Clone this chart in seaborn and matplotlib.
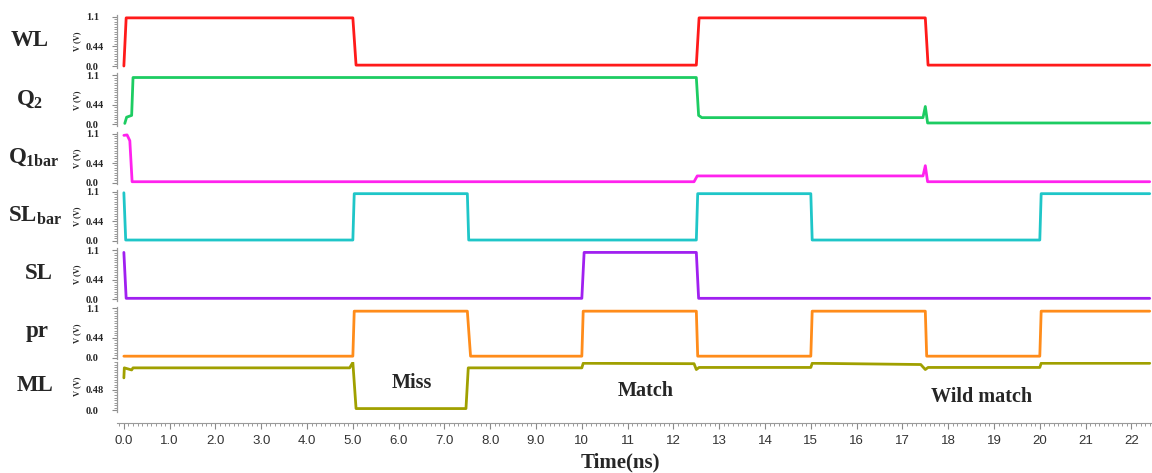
import numpy as np
import pandas as pd
import seaborn as sns
import matplotlib.pyplot as plt
from matplotlib.ticker import MultipleLocator

# Waveform breakpoints (time in ns, voltage in V)
wl_t = [0.0, 0.05, 5.0, 5.07, 12.5, 12.56, 17.5, 17.56, 22.4]
wl_v = [0.0, 1.08, 1.08, 0.02, 0.02, 1.08, 1.08, 0.02, 0.02]

q2_t = [0.02, 0.06, 0.17, 0.2, 12.5, 12.55, 12.62, 17.45, 17.5, 17.55, 22.4]
q2_v = [0.02, 0.16, 0.2, 1.05, 1.05, 0.2, 0.15, 0.15, 0.4, 0.03, 0.03]

q1bar_t = [0.0, 0.07, 0.13, 0.18, 12.45, 12.52, 17.45, 17.5, 17.55, 22.4]
q1bar_v = [1.06, 1.07, 0.94, 0.02, 0.02, 0.15, 0.15, 0.38, 0.02, 0.02]

slbar_t = [0.0, 0.04, 5.0, 5.03, 7.5, 7.53, 12.5, 12.53, 15.0, 15.03, 20.0, 20.03, 22.4]
slbar_v = [1.08, 0.02, 0.02, 1.06, 1.06, 0.02, 0.02, 1.06, 1.06, 0.02, 0.02, 1.06, 1.06]

sl_t = [0.0, 0.05, 10.0, 10.05, 12.5, 12.55, 22.4]
sl_v = [1.05, 0.02, 0.02, 1.05, 1.05, 0.02, 0.02]

pr_t = [0.0, 5.0, 5.03, 7.5, 7.57, 10.0, 10.03, 12.5, 12.53, 15.0, 15.03, 17.5, 17.53, 20.0, 20.03, 22.4]
pr_v = [0.03, 0.03, 1.04, 1.04, 0.03, 0.03, 1.04, 1.04, 0.03, 0.03, 1.04, 1.04, 0.03, 0.03, 1.04, 1.04]

ml_t = [0.0, 0.01, 0.17, 0.2, 4.93, 5.0, 5.07, 7.47, 7.52, 10.0, 10.03, 12.45, 12.5, 12.56,
        15.0, 15.03, 17.4, 17.5, 17.56, 20.0, 20.03, 22.4]
ml_v = [0.77, 1.01, 0.96, 1.01, 1.01, 1.14, 0.035, 0.035, 1.01, 1.01, 1.12, 1.11, 0.97, 1.02,
        1.02, 1.12, 1.09, 0.97, 1.02, 1.02, 1.12, 1.12]

names = ["WL", r"$\mathrm{Q_{2}}$", r"$\mathrm{Q_{1bar}}$", r"$\mathrm{SL_{bar}}$", "SL", "pr", "ML"]
name_x = [30, 30, 34, 35, 39, 37, 35]
colors = ["#ff1a1a", "#1dcc62", "#ff22ee", "#1fc6c8", "#a020f0", "#ff8c1a", "#a0a000"]
x_ticks = list(range(23))
x_labels = [f"{v:.1f}" for v in x_ticks[:10]] + [str(v) for v in x_ticks[10:]]

series = [(wl_t, wl_v), (q2_t, q2_v), (q1bar_t, q1bar_v), (slbar_t, slbar_v),
          (sl_t, sl_v), (pr_t, pr_v), (ml_t, ml_v)]

sns.set_style("white")
plt.rcParams['font.family'] = ['Liberation Serif', 'DejaVu Serif']
plt.rcParams['mathtext.fontset'] = 'custom'
plt.rcParams['mathtext.rm'] = 'Liberation Serif:bold'
plt.rcParams['mathtext.it'] = 'Liberation Serif:bold'
plt.rcParams['mathtext.bf'] = 'Liberation Serif:bold'

W, H = 1152, 473
fig = plt.figure(figsize=(W / 100, H / 100), dpi=100)
left = 117 / W

for i, ((t, v), name, c) in enumerate(zip(series, names, colors)):
    last = i == 6
    if last:
        top_px, bot_px, ylim = 361.6, 411.7, (-0.04, 1.16)
    else:
        top_px, bot_px, ylim = 15.2 + 58.3 * i, 67.8 + 58.3 * i, (-0.04, 1.14)
    ax = fig.add_axes([left, 1 - bot_px / H, 1 - left, (bot_px - top_px) / H])
    sns.lineplot(x=t, y=v, ax=ax, color=c, lw=2.0, estimator=None, sort=False)
    ax.set_xlim(-0.15, 22.45)
    ax.set_ylim(*ylim)
    for s in ["top", "right"]:
        ax.spines[s].set_visible(False)
    ax.spines["left"].set_color("#9a9a9a")
    ax.spines["left"].set_linewidth(0.9)

    if last:
        ax.set_yticks([0, 0.48], labels=["0.0", "0.48"])
        ax.yaxis.set_minor_locator(MultipleLocator(0.06))
        ax.spines["bottom"].set_position(("outward", 8))
        ax.spines["bottom"].set_color("#9a9a9a")
        ax.set_xticks(x_ticks, labels=x_labels)
        ax.xaxis.set_minor_locator(MultipleLocator(0.1))
        ax.tick_params(axis="x", which="both", bottom=True)
        ax.tick_params(axis="x", which="major", direction="out", length=4, width=0.8,
                       color="#8a8a8a", labelsize=9.5, labelcolor="#333333", pad=5)
        ax.tick_params(axis="x", which="minor", direction="out", length=2.2, width=0.6,
                       color="#8a8a8a")
        for lab in ax.get_xticklabels():
            lab.set_fontfamily("Liberation Sans")
    else:
        ax.set_yticks([0, 0.44, 1.1], labels=["0.0", "0.44", "1.1"])
        ax.yaxis.set_minor_locator(MultipleLocator(0.055))
        ax.spines["bottom"].set_visible(False)
        ax.tick_params(axis="x", which="both", bottom=False, labelbottom=False)

    ax.tick_params(axis="y", which="both", left=True)
    ax.tick_params(axis="y", which="major", direction="out", length=3.5, width=0.8,
                   color="#8a8a8a", labelsize=7.5, pad=19)
    ax.tick_params(axis="y", which="minor", direction="out", length=2, width=0.6,
                   color="#8a8a8a")
    for lab in ax.get_yticklabels():
        lab.set_fontweight("bold")
        lab.set_horizontalalignment("left")
    ax.set_ylabel("V (V)", fontsize=6, fontweight="bold")
    ax.yaxis.set_label_coords(-0.035, 0.5)

    yc = (top_px + bot_px) / 2 - 1
    fig.text(name_x[i] / W, 1 - yc / H, name, fontsize=16.5, fontweight="bold",
             ha="center", va="center")

fig.text(412 / W, 1 - 383 / H, "Miss", fontsize=14.5, fontweight="bold", ha="center", va="center")
fig.text(646 / W, 1 - 391 / H, "Match", fontsize=14.5, fontweight="bold", ha="center", va="center")
fig.text(982 / W, 1 - 397 / H, "Wild match", fontsize=14.5, fontweight="bold", ha="center", va="center")
fig.text(620 / W, 1 - 462 / H, "Time(ns)", fontsize=15, fontweight="bold", ha="center", va="center")

fig.savefig("out.png", dpi=100)
